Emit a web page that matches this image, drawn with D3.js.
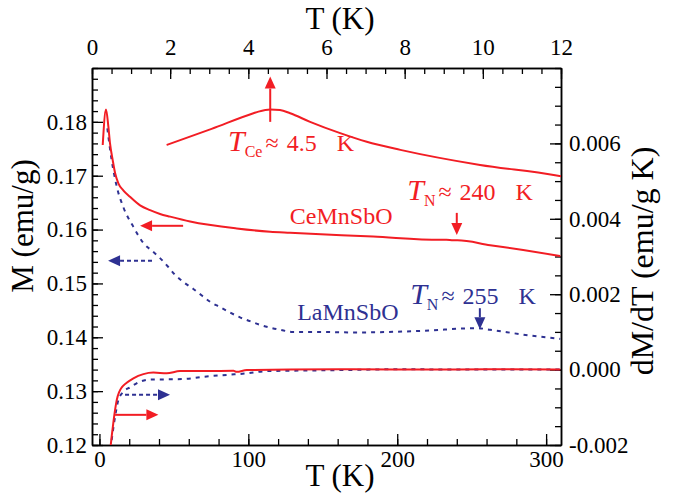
<!DOCTYPE html>
<html>
<head>
<meta charset="utf-8">
<script src="https://cdn.jsdelivr.net/npm/d3@7"></script>
<style>
  body { margin: 0; background: #fff; }
  svg { display: block; }
  text { font-family: "Liberation Serif", "Times New Roman", serif; white-space: pre; }
</style>
</head>
<body>
<svg id="chart" width="676" height="495"></svg>
<script>
// CeMnSbO M(T), bottom T axis, left M axis
const ceMT = [2.2, 4.4, 6.0, 7.1, 8.9, 10.5, 12.7, 16.0, 20.5, 27.3, 34.0, 40.7, 47.5, 60.9, 92.2, 114.6, 128, 183.8, 228.9, 233, 237.6, 240.5, 262.4, 284.6, 309.5];
const ceM  = [0.1757, 0.1823, 0.1791, 0.1760, 0.1729, 0.1705, 0.1686, 0.1673, 0.1661, 0.1645, 0.1636, 0.1629, 0.1624, 0.1615, 0.1602, 0.1596, 0.1594, 0.1587, 0.1581, 0.1581, 0.1580, 0.1580, 0.1571, 0.1562, 0.1551];

// LaMnSbO M(T)
const laMT = [5.3, 8.2, 11.6, 16.0, 22.8, 29.5, 36.0, 40.7, 46.1, 50.8, 56.2, 62.9, 69.0, 74.3, 81.0, 87.7, 94.4, 101.1, 107.9, 114.6, 121.3, 130.0, 143.5, 173.1, 217.4, 253.7, 262.4, 284.6, 309.5];
const laM  = [0.1788, 0.1729, 0.1680, 0.1642, 0.1605, 0.1575, 0.1559, 0.1547, 0.1531, 0.1516, 0.1503, 0.1490, 0.1477, 0.1466, 0.1456, 0.1446, 0.1437, 0.1430, 0.1423, 0.1418, 0.1414, 0.1410, 0.1410, 0.1409, 0.1412, 0.1417, 0.1414, 0.1405, 0.1397];

// CeMnSbO dM/dT, right axis
const ceDT = [7.6, 8.2, 9.3, 10.5, 11.6, 13.3, 15.0, 18.3, 22.8, 29.5, 36.2, 45.2, 54.1, 72.1, 90.0, 92.2, 99.0, 128, 170, 220, 260, 309.5];
const ceD  = [-0.00200, -0.00178, -0.00142, -0.00107, -0.00081, -0.00059, -0.00047, -0.00035, -0.00023, -0.00012, -0.00008, -0.00010, -0.00004, -0.00004, -0.00003, -0.00006, -0.00001, 0.0, 0.00001, 0.0, 0.00001, 0.0];

// LaMnSbO dM/dT
const laDT = [8.2, 10.5, 12.7, 16.0, 20.5, 27.3, 35.1, 41.8, 56.4, 69.8, 85.5, 99.0, 112.4, 128, 168, 202, 242, 309.5];
const laD  = [-0.00187, -0.00125, -0.00081, -0.00059, -0.00047, -0.00032, -0.00026, -0.00026, -0.00025, -0.00019, -0.00014, -0.00010, -0.00004, -0.00003, -0.00001, 0.00001, 0.0, 0.0];

// low-T CeMnSbO M(T), top T axis, left M axis
const insetT = [1.91, 3.06, 4.13, 4.26, 4.56, 4.81, 5.07, 5.58, 6.35, 7.03, 7.89, 9.93, 11.85, 12.0];
const insetM = [0.1757, 0.1787, 0.1816, 0.1819, 0.1823, 0.1822, 0.1816, 0.1800, 0.1779, 0.1763, 0.1748, 0.1720, 0.1701, 0.1699];

// ticks
const leftMajor = [0.12, 0.13, 0.14, 0.15, 0.16, 0.17, 0.18];
const leftLabels = ["0.12", "0.13", "0.14", "0.15", "0.16", "0.17", "0.18"];
const rightMajor = [-0.002, 0.0, 0.002, 0.004, 0.006];
const rightLabels = ["-0.002", "0.000", "0.002", "0.004", "0.006"];
const bottomMajor = [0, 100, 200, 300];
const bottomLabels = ["0", "100", "200", "300"];
const topMajor = [0, 2, 4, 6, 8, 10, 12];
const topLabels = ["0", "2", "4", "6", "8", "10", "12"];

const RED = "#f21d24";
const BLUE = "#2e3192";
const FONT = '"Liberation Serif", "Times New Roman", serif';

const L = 92, R = 561, T = 68, B = 445;

const x = d3.scaleLinear().domain([-5, 310]).range([L, R]);
const xTop = d3.scaleLinear().domain([0, 12]).range([L, R]);
const yL = d3.scaleLinear().domain([0.12, 0.19]).range([B, T]);
const yR = d3.scaleLinear().domain([-0.002, 0.008]).range([B, T]);

const svg = d3.select("#chart");

svg.append("defs").append("clipPath").attr("id", "plot")
  .append("rect").attr("x", L).attr("y", T).attr("width", R - L).attr("height", B - T);

function styleAxis(g) {
  g.attr("font-family", FONT).attr("font-size", 23);
  g.select(".domain").attr("stroke", "#000").attr("stroke-width", 1.5);
  g.selectAll(".tick line").attr("stroke", "#000").attr("stroke-width", 1.3);
  g.selectAll(".tick text").attr("fill", "#000");
}

function drawAxis(maker, scale, transform, minor, major, labels, pad) {
  svg.append("g").attr("transform", transform)
    .call(maker(scale).tickValues(minor).tickSize(-6).tickSizeOuter(0).tickFormat(""))
    .call(styleAxis);
  svg.append("g").attr("transform", transform)
    .call(maker(scale).tickValues(major).tickSize(-11).tickSizeOuter(0).tickPadding(pad)
      .tickFormat((d, i) => labels[i]))
    .call(styleAxis);
}

drawAxis(d3.axisLeft, yL, `translate(${L},0)`, d3.range(0.12, 0.1901, 0.002), leftMajor, leftLabels, 5);
drawAxis(d3.axisRight, yR, `translate(${R},0)`, d3.range(-0.002, 0.00801, 0.0005), rightMajor, rightLabels, 8);
drawAxis(d3.axisBottom, x, `translate(0,${B})`, d3.range(0, 301, 20), bottomMajor, bottomLabels, 6);
drawAxis(d3.axisTop, xTop, `translate(0,${T})`, d3.range(0, 12.01, 0.5), topMajor, topLabels, 13);

// axis titles
svg.append("text").attr("x", 340).attr("y", 486).attr("text-anchor", "middle")
  .attr("font-size", 31).text("T (K)");
svg.append("text").attr("x", 340).attr("y", 29).attr("text-anchor", "middle")
  .attr("font-size", 31).text("T (K)");
svg.append("text").attr("transform", "translate(33,226) rotate(-90)").attr("text-anchor", "middle")
  .attr("font-size", 31).text("M (emu/g)");
svg.append("text").attr("transform", "translate(653,261) rotate(-90)").attr("text-anchor", "middle")
  .attr("font-size", 32).text("dM/dT (emu/g K)");

// curves
const plot = svg.append("g").attr("clip-path", "url(#plot)");

function curve(xs, ys, xs_scale, ys_scale, color, dashed) {
  const pts = xs.map((d, i) => [xs_scale(d), ys_scale(ys[i])]);
  const path = plot.append("path")
    .attr("d", d3.line().curve(d3.curveMonotoneX)(pts))
    .attr("fill", "none").attr("stroke", color).attr("stroke-width", 2);
  if (dashed) path.attr("stroke-dasharray", "4,5");
}

curve(laMT, laM, x, yL, BLUE, true);
curve(laDT, laD, x, yR, BLUE, true);
curve(ceMT, ceM, x, yL, RED, false);
curve(ceDT, ceD, x, yR, RED, false);
curve(insetT, insetM, xTop, yL, RED, false);

// arrows
function arrow(x1, y1, x2, y2, color, dashed) {
  const len = Math.hypot(x2 - x1, y2 - y1);
  const ux = (x2 - x1) / len, uy = (y2 - y1) / len;
  const hl = 12, hw = 5.5;
  const bx = x2 - ux * hl, by = y2 - uy * hl;
  const line = svg.append("line").attr("x1", x1).attr("y1", y1).attr("x2", bx).attr("y2", by)
    .attr("stroke", color).attr("stroke-width", 2);
  if (dashed) line.attr("stroke-dasharray", "4,3");
  svg.append("path")
    .attr("d", `M${x2},${y2}L${bx - uy * hw},${by + ux * hw}L${bx + uy * hw},${by - ux * hw}Z`)
    .attr("fill", color);
}

// which-axis arrows
arrow(x(56.2), yL(0.1607), x(27.3), yL(0.1607), RED, false);
arrow(x(35.3), yL(0.1542), x(5.8), yL(0.1542), BLUE, true);
arrow(x(17.2), yR(-0.00067), x(47.4), yR(-0.00067), BLUE, true);
arrow(x(10.5), yR(-0.0012), x(39.6), yR(-0.0012), RED, false);
// transition markers
arrow(xTop(4.56), yL(0.1800), xTop(4.56), yL(0.1884), RED, false);
arrow(x(240), yL(0.1631), x(240), yL(0.1590), RED, false);
arrow(x(255.5), yL(0.1454), x(255.5), yL(0.1415), BLUE, false);

// annotation labels
function tLabel(px, py, sub, value, color) {
  const t = svg.append("text").attr("x", px).attr("y", py).attr("fill", color);
  t.append("tspan").attr("font-style", "italic").attr("font-size", 30).text("T");
  t.append("tspan").attr("font-size", 16).attr("dy", 6).text(sub);
  t.append("tspan").attr("font-size", 24).attr("dx", 3).attr("dy", -6).text("≈");
  t.append("tspan").attr("font-size", 24).attr("dx", 8).text(value);
  t.append("tspan").attr("font-size", 24).attr("dx", 20).text("K");
}

tLabel(xTop(3.48), yL(0.1746), "Ce", "4.5", RED);
tLabel(x(206.7), yL(0.1654), "N", "240", RED);
tLabel(x(208.7), yL(0.1461), "N", "255", BLUE);

svg.append("text").attr("x", x(127.9)).attr("y", yL(0.1610)).attr("font-size", 24)
  .attr("fill", RED).text("CeMnSbO");
svg.append("text").attr("x", x(132.8)).attr("y", yL(0.1433)).attr("font-size", 24)
  .attr("fill", BLUE).text("LaMnSbO");
</script>
</body>
</html>
